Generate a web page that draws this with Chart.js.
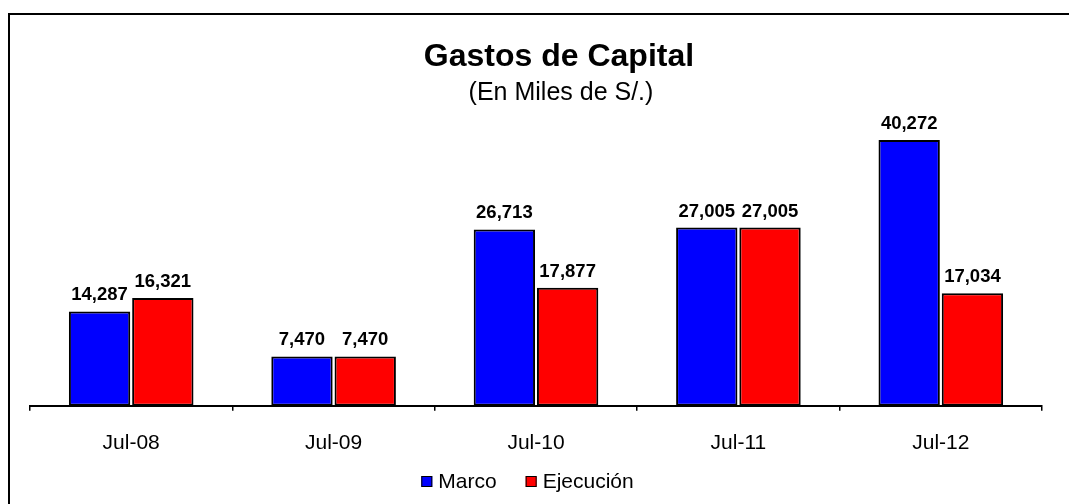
<!DOCTYPE html>
<html>
<head>
<meta charset="utf-8">
<script src="https://cdn.jsdelivr.net/npm/chart.js@4.4.0/dist/chart.umd.min.js"></script>
<style>
  html, body { margin: 0; padding: 0; background: #fff; overflow: hidden; }
  #wrap { position: relative; width: 1069px; height: 504px; }
</style>
</head>
<body>
<div id="wrap"><canvas id="chart" width="1069" height="504"></canvas></div>
<script>
const categories = ['Jul-08', 'Jul-09', 'Jul-10', 'Jul-11', 'Jul-12'];
const marco = [14287, 7470, 26713, 27005, 40272];
const ejecucion = [16321, 7470, 17877, 27005, 17034];

const titleText = 'Gastos de Capital';
const subtitleText = '(En Miles de S/.)';

const FONT = '"Liberation Sans", Arial, sans-serif';

// fondo, marco exterior y títulos
const framePlugin = {
    id: 'frame',
    beforeDraw(chart) {
        const c = chart.ctx;
        c.save();
        c.fillStyle = '#fff';
        c.fillRect(0, 0, chart.width, chart.height);
        c.strokeStyle = '#000';
        c.lineWidth = 2;
        c.beginPath();
        c.moveTo(9, chart.height + 5);
        c.lineTo(9, 14);
        c.lineTo(chart.width + 5, 14);
        c.stroke();

        c.fillStyle = '#000';
        c.textAlign = 'center';
        c.textBaseline = 'alphabetic';
        c.font = 'bold 32px ' + FONT;
        c.fillText(titleText, 559, 66);
        c.font = '25px ' + FONT;
        c.fillText(subtitleText, 561, 100);
        c.restore();
    }
};

// etiquetas de valor sobre las barras y leyenda inferior
const valueLabels = {
    id: 'valueLabels',
    afterDatasetsDraw(chart) {
        const c = chart.ctx;
        c.save();
        c.font = 'bold 18.5px ' + FONT;
        c.fillStyle = '#000';
        c.textAlign = 'center';
        c.textBaseline = 'alphabetic';
        chart.data.datasets.forEach((ds, i) => {
            chart.getDatasetMeta(i).data.forEach((bar, j) => {
                c.fillText(ds.data[j].toLocaleString('en-US'), bar.x, bar.y - 11);
            });
        });

        // leyenda
        c.font = '21px ' + FONT;
        c.textAlign = 'left';
        const box = 11, gap = 6, spacing = 29;
        const widths = chart.data.datasets.map(ds => c.measureText(ds.label).width);
        let total = 0;
        widths.forEach((w, i) => { total += box + gap + w + (i < widths.length - 1 ? spacing : 0); });
        let x = 527.5 - total / 2;
        const y = 488;
        chart.data.datasets.forEach((ds, i) => {
            c.fillStyle = ds.backgroundColor;
            c.fillRect(x, 476, box, box);
            c.strokeStyle = '#000';
            c.lineWidth = 1;
            c.strokeRect(x + 0.5, 476.5, box - 1, box - 1);
            c.fillStyle = '#000';
            c.fillText(ds.label, x + box + gap, y);
            x += box + gap + widths[i] + spacing;
        });
        c.restore();
    }
};

const ctx = document.getElementById('chart').getContext('2d');
new Chart(ctx, {
    type: 'bar',
    data: {
        labels: categories,
        datasets: [
            {
                label: 'Marco',
                data: marco,
                backgroundColor: '#0000ff',
                borderColor: '#000',
                borderWidth: 2,
                borderSkipped: false
            },
            {
                label: 'Ejecución',
                data: ejecucion,
                backgroundColor: '#ff0000',
                borderColor: '#000',
                borderWidth: 2,
                borderSkipped: false
            }
        ]
    },
    options: {
        responsive: false,
        animation: false,
        categoryPercentage: 0.625,
        barPercentage: 0.97,
        layout: { padding: { left: 30, right: 27, top: 120, bottom: 28 } },
        plugins: {
            title: { display: false },
            subtitle: { display: false },
            legend: { display: false },
            tooltip: { enabled: false }
        },
        scales: {
            x: {
                grid: {
                    drawOnChartArea: false,
                    drawTicks: true,
                    tickLength: 5,
                    color: '#000',
                    lineWidth: 1.5
                },
                border: { color: '#000', width: 2 },
                ticks: {
                    color: '#000',
                    font: { family: FONT, size: 21 },
                    padding: 20
                }
            },
            y: {
                display: false,
                min: 0,
                max: 43300
            }
        }
    },
    plugins: [framePlugin, valueLabels]
});
</script>
</body>
</html>
